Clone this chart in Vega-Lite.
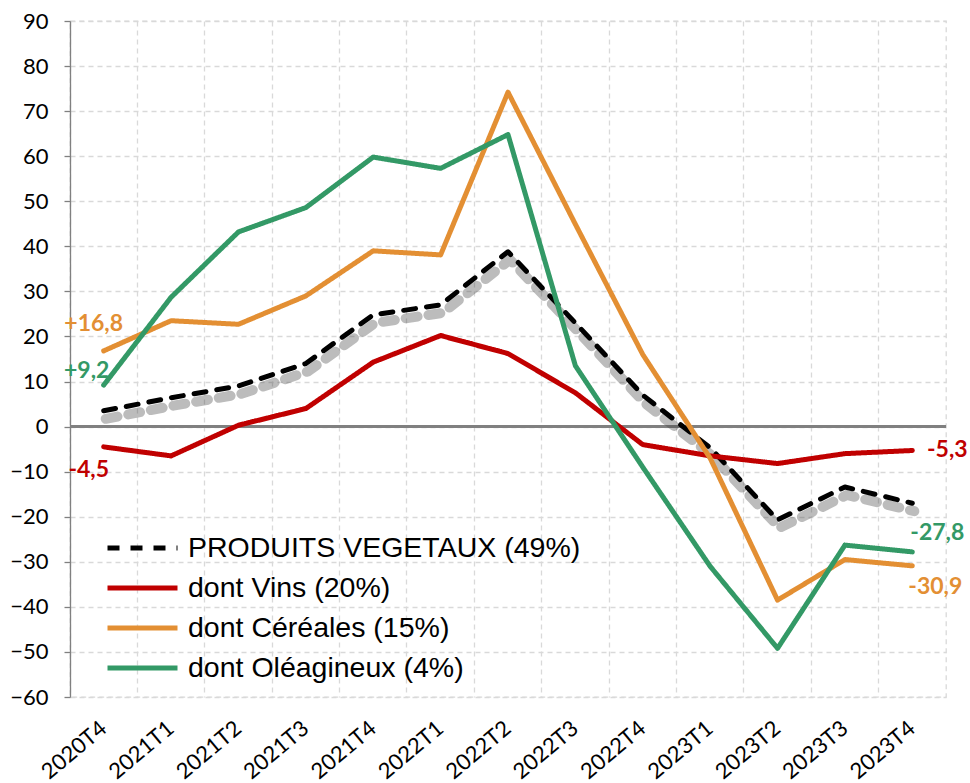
{
  "$schema": "https://vega.github.io/schema/vega-lite/v6.json",
  "width": 876,
  "height": 676,
  "autosize": {"type": "none"},
  "padding": {"left": 70, "top": 21, "right": 24, "bottom": 86},
  "background": "white",
  "config": {
    "view": {"stroke": "#d9d9d9", "strokeDash": [5, 4], "strokeWidth": 1.3},
    "font": "Lato"
  },
  "datasets": {
    "series": [
      {"t": "2020T4", "s": "PRODUITS VEGETAUX (49%)", "v": 3.5},
      {"t": "2021T1", "s": "PRODUITS VEGETAUX (49%)", "v": 6.4},
      {"t": "2021T2", "s": "PRODUITS VEGETAUX (49%)", "v": 9},
      {"t": "2021T3", "s": "PRODUITS VEGETAUX (49%)", "v": 14},
      {"t": "2021T4", "s": "PRODUITS VEGETAUX (49%)", "v": 24.8},
      {"t": "2022T1", "s": "PRODUITS VEGETAUX (49%)", "v": 27},
      {"t": "2022T2", "s": "PRODUITS VEGETAUX (49%)", "v": 38.8},
      {"t": "2022T3", "s": "PRODUITS VEGETAUX (49%)", "v": 23},
      {"t": "2022T4", "s": "PRODUITS VEGETAUX (49%)", "v": 7},
      {"t": "2023T1", "s": "PRODUITS VEGETAUX (49%)", "v": -4.7},
      {"t": "2023T2", "s": "PRODUITS VEGETAUX (49%)", "v": -20.7},
      {"t": "2023T3", "s": "PRODUITS VEGETAUX (49%)", "v": -13.4},
      {"t": "2023T4", "s": "PRODUITS VEGETAUX (49%)", "v": -17},
      {"t": "2020T4", "s": "dont Vins (20%)", "v": -4.5},
      {"t": "2021T1", "s": "dont Vins (20%)", "v": -6.5},
      {"t": "2021T2", "s": "dont Vins (20%)", "v": 0.3},
      {"t": "2021T3", "s": "dont Vins (20%)", "v": 4},
      {"t": "2021T4", "s": "dont Vins (20%)", "v": 14.3},
      {"t": "2022T1", "s": "dont Vins (20%)", "v": 20.2},
      {"t": "2022T2", "s": "dont Vins (20%)", "v": 16.2},
      {"t": "2022T3", "s": "dont Vins (20%)", "v": 7.5},
      {"t": "2022T4", "s": "dont Vins (20%)", "v": -4},
      {"t": "2023T1", "s": "dont Vins (20%)", "v": -6.5},
      {"t": "2023T2", "s": "dont Vins (20%)", "v": -8.2},
      {"t": "2023T3", "s": "dont Vins (20%)", "v": -6},
      {"t": "2023T4", "s": "dont Vins (20%)", "v": -5.3},
      {"t": "2020T4", "s": "dont Céréales (15%)", "v": 16.8},
      {"t": "2021T1", "s": "dont Céréales (15%)", "v": 23.5},
      {"t": "2021T2", "s": "dont Céréales (15%)", "v": 22.7},
      {"t": "2021T3", "s": "dont Céréales (15%)", "v": 29},
      {"t": "2021T4", "s": "dont Céréales (15%)", "v": 39},
      {"t": "2022T1", "s": "dont Céréales (15%)", "v": 38.1},
      {"t": "2022T2", "s": "dont Céréales (15%)", "v": 74.2},
      {"t": "2022T3", "s": "dont Céréales (15%)", "v": 44.9},
      {"t": "2022T4", "s": "dont Céréales (15%)", "v": 16},
      {"t": "2023T1", "s": "dont Céréales (15%)", "v": -7},
      {"t": "2023T2", "s": "dont Céréales (15%)", "v": -38.5},
      {"t": "2023T3", "s": "dont Céréales (15%)", "v": -29.5},
      {"t": "2023T4", "s": "dont Céréales (15%)", "v": -30.9},
      {"t": "2020T4", "s": "dont Oléagineux (4%)", "v": 9.2},
      {"t": "2021T1", "s": "dont Oléagineux (4%)", "v": 28.7},
      {"t": "2021T2", "s": "dont Oléagineux (4%)", "v": 43.2},
      {"t": "2021T3", "s": "dont Oléagineux (4%)", "v": 48.6},
      {"t": "2021T4", "s": "dont Oléagineux (4%)", "v": 59.8},
      {"t": "2022T1", "s": "dont Oléagineux (4%)", "v": 57.3},
      {"t": "2022T2", "s": "dont Oléagineux (4%)", "v": 64.8},
      {"t": "2022T3", "s": "dont Oléagineux (4%)", "v": 13.5},
      {"t": "2022T4", "s": "dont Oléagineux (4%)", "v": -9},
      {"t": "2023T1", "s": "dont Oléagineux (4%)", "v": -31},
      {"t": "2023T2", "s": "dont Oléagineux (4%)", "v": -49.2},
      {"t": "2023T3", "s": "dont Oléagineux (4%)", "v": -26.3},
      {"t": "2023T4", "s": "dont Oléagineux (4%)", "v": -27.8}
    ],
    "labels": [
      {"t": "2020T4", "s": "dont Céréales (15%)", "v": 16.8, "label": "+16,8"},
      {"t": "2020T4", "s": "dont Oléagineux (4%)", "v": 9.2, "label": "+9,2"},
      {"t": "2020T4", "s": "dont Vins (20%)", "v": -4.5, "label": "-4,5"},
      {"t": "2023T4", "s": "dont Vins (20%)", "v": -5.3, "label": "-5,3"},
      {"t": "2023T4", "s": "dont Oléagineux (4%)", "v": -27.8, "label": "-27,8"},
      {"t": "2023T4", "s": "dont Céréales (15%)", "v": -30.9, "label": "-30,9"}
    ]
  },
  "encoding": {
    "x": {
      "field": "t", "type": "nominal", "sort": null,
      "scale": {"type": "band", "paddingInner": 0, "paddingOuter": 0},
      "axis": {
        "title": null, "bandPosition": 0, "labelAngle": -40, "labelAlign": "right", "labelBaseline": "middle",
        "labelPadding": 28, "labelFontSize": 22, "labelColor": "#000000", "labelFont": "Lato",
        "ticks": false, "domain": false,
        "grid": true, "gridColor": "#d9d9d9", "gridDash": [5, 4], "gridWidth": 1.3
      }
    },
    "y": {
      "field": "v", "type": "quantitative",
      "scale": {"domain": [-60, 90], "nice": false, "zero": false},
      "axis": {
        "title": null, "values": [-60, -50, -40, -30, -20, -10, 0, 10, 20, 30, 40, 50, 60, 70, 80, 90],
        "labelFontSize": 22, "labelColor": "#000000", "labelFont": "Lato", "labelPadding": 16,
        "domainColor": "#808080", "domainWidth": 1.3, "tickColor": "#808080", "tickSize": 6, "tickWidth": 1.3,
        "grid": true, "gridColor": "#d9d9d9", "gridDash": [5, 4], "gridWidth": 1.3
      }
    }
  },
  "layer": [
    {
      "data": {"name": "series"},
      "mark": {"type": "rule", "color": "#808080", "strokeWidth": 1.5},
      "encoding": {"y": {"datum": 0}, "x": null}
    },
    {
      "data": {"name": "series"},
      "transform": [{"filter": "datum.s == 'PRODUITS VEGETAUX (49%)'"}],
      "mark": {"type": "line", "color": "#404040", "opacity": 0.35, "strokeWidth": 10, "strokeDash": [12, 11], "strokeCap": "round", "xOffset": 2, "yOffset": 8}
    },
    {
      "data": {"name": "series"},
      "mark": {"type": "line", "strokeWidth": 5, "strokeCap": "round", "strokeJoin": "round"},
      "encoding": {
        "color": {
          "field": "s", "type": "nominal",
          "scale": {"domain": ["PRODUITS VEGETAUX (49%)", "dont Vins (20%)", "dont Céréales (15%)", "dont Oléagineux (4%)"],
                    "range": ["#000000", "#c00000", "#e38f33", "#339966"]},
          "legend": {
            "title": null, "orient": "none", "legendX": 35, "legendY": 507,
            "symbolType": "stroke", "symbolSize": 4900, "symbolStrokeWidth": 5, "clipHeight": 40,
            "labelFont": "Liberation Sans", "labelFontSize": 28.5, "labelColor": "#000000", "labelOffset": 8,
            "rowPadding": 0, "labelLimit": 600
          }
        },
        "strokeDash": {
          "field": "s", "type": "nominal",
          "scale": {"domain": ["PRODUITS VEGETAUX (49%)", "dont Vins (20%)", "dont Céréales (15%)", "dont Oléagineux (4%)"],
                    "range": [[12, 11], [1, 0], [1, 0], [1, 0]]},
          "legend": {
            "title": null, "orient": "none", "legendX": 35, "legendY": 507,
            "symbolType": "stroke", "symbolSize": 4900, "symbolStrokeWidth": 5, "clipHeight": 40,
            "labelFont": "Liberation Sans", "labelFontSize": 28.5, "labelColor": "#000000", "labelOffset": 8,
            "rowPadding": 0, "labelLimit": 600
          }
        }
      }
    },
    {
      "data": {"name": "labels"},
      "transform": [{"filter": "datum.label == '+16,8'"}],
      "mark": {"type": "text", "color": "#e38f33", "fontWeight": "bold", "fontSize": 23, "font": "Lato", "dx": -10, "dy": -27},
      "encoding": {"text": {"field": "label"}}
    },
    {
      "data": {"name": "labels"},
      "transform": [{"filter": "datum.label == '+9,2'"}],
      "mark": {"type": "text", "color": "#339966", "fontWeight": "bold", "fontSize": 23, "font": "Lato", "dx": -17, "dy": -14},
      "encoding": {"text": {"field": "label"}}
    },
    {
      "data": {"name": "labels"},
      "transform": [{"filter": "datum.label == '-4,5'"}],
      "mark": {"type": "text", "color": "#c00000", "fontWeight": "bold", "fontSize": 23, "font": "Lato", "dx": -15, "dy": 23},
      "encoding": {"text": {"field": "label"}}
    },
    {
      "data": {"name": "labels"},
      "transform": [{"filter": "datum.label == '-5,3'"}],
      "mark": {"type": "text", "color": "#c00000", "fontWeight": "bold", "fontSize": 23, "font": "Lato", "dx": 35, "dy": 0},
      "encoding": {"text": {"field": "label"}}
    },
    {
      "data": {"name": "labels"},
      "transform": [{"filter": "datum.label == '-27,8'"}],
      "mark": {"type": "text", "color": "#339966", "fontWeight": "bold", "fontSize": 23, "font": "Lato", "dx": 25, "dy": -19},
      "encoding": {"text": {"field": "label"}}
    },
    {
      "data": {"name": "labels"},
      "transform": [{"filter": "datum.label == '-30,9'"}],
      "mark": {"type": "text", "color": "#e38f33", "fontWeight": "bold", "fontSize": 23, "font": "Lato", "dx": 23, "dy": 21},
      "encoding": {"text": {"field": "label"}}
    }
  ]
}
